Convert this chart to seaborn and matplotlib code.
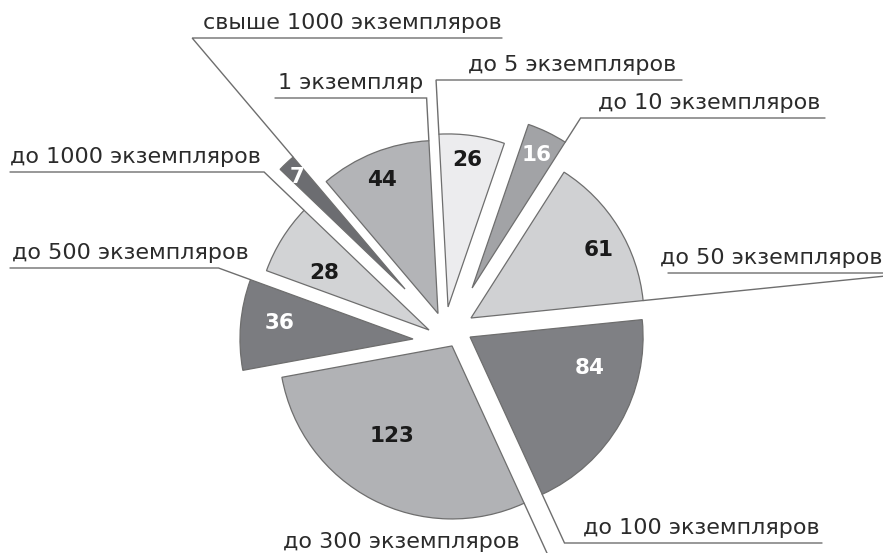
import numpy as np
import seaborn as sns
from matplotlib import pyplot as plt

sns.set_style("white")
plt.rcParams['font.family'] = ['DejaVu Sans']

# pie order, clockwise from the upper left
categories = ['1 экземпляр', 'до 5 экземпляров', 'до 10 экземпляров',
              'до 50 экземпляров', 'до 100 экземпляров', 'до 300 экземпляров',
              'до 500 экземпляров', 'до 1000 экземпляров', 'свыше 1000 экземпляров']
values = [44, 26, 16, 61, 84, 123, 36, 28, 7]

colors = ['#b3b4b7', '#ececee', '#a2a3a6', '#d0d1d3', '#7f8084',
          '#b1b2b5', '#7b7c80', '#d2d3d5', '#6c6d71']
value_colors = ['#1a1a1a', '#1a1a1a', 'white', '#1a1a1a', 'white',
                '#1a1a1a', 'white', '#1a1a1a', 'white']

# wedges are pulled out by hand, not always along their bisector:
# distance (fraction of radius) and direction (degrees)
offset_dist = [0.141, 0.141, 0.26, 0.111, 0.091, 0.095, 0.254, 0.156, 0.378]
offset_ang = [137.5, 109, 69, 38.7, -26.6, -104, 191.8, 180, 141.2]
# where the number sits inside its wedge: fraction of the angle, fraction of radius
value_t = [0.53, 0.53, 0.48, 0.43, 0.715, 0.44, 0.43, 0.65, 0.58]
value_rho = [0.84, 0.857, 0.855, 0.833, 0.716, 0.625, 0.775, 0.69, 0.90]

W, H = 883, 553
R = 173
CENTER = np.array([456.0, H - 330.0])
EDGE = '#6e6e6e'


def unit(deg):
    a = np.deg2rad(deg)
    return np.array([np.cos(a), np.sin(a)])


fig = plt.figure(figsize=(W / 100, H / 100), dpi=100)
ax = fig.add_axes([0, 0, 1, 1])

wedges, _ = ax.pie(values, colors=colors, startangle=130.3, counterclock=False,
                   radius=R, center=tuple(CENTER),
                   wedgeprops=dict(edgecolor=EDGE, linewidth=0.9), frame=True)
for w, d, a in zip(wedges, offset_dist, offset_ang):
    w.set_center(tuple(CENTER + d * R * unit(a)))

ax.set_xlim(0, W)
ax.set_ylim(0, H)
ax.set_aspect('equal')
ax.axis('off')

# numbers inside wedges
for w, v, c, t, rho in zip(wedges, values, value_colors, value_t, value_rho):
    a = w.theta1 + t * (w.theta2 - w.theta1)
    x, y = np.array(w.center) + rho * R * unit(a)
    ax.text(x, y, str(v), ha='center', va='center', color=c,
            fontsize=15.5, fontweight='bold', zorder=5)

# outer labels: (wedge index, side of wedge, line y from top, far end x, text x)
leaders = [
    (0, 'lo', 98, 275, 278),
    (1, 'hi', 80, 682, 468),
    (2, 'lo', 118, 825, 598),
    (3, 'lo', 273, 668, 660),
    (4, 'lo', 543, 822, 583),
    (5, 'hi', 557, 560, 283),
    (6, 'lo', 268, 10, 12),
    (7, 'lo', 172, 10, 10),
    (8, 'lo', 38, 502, 203),
]

for idx, side, ly, far_x, tx in leaders:
    w = wedges[idx]
    ang = w.theta1 if side == 'lo' else w.theta2
    u = unit(ang)
    corner = np.array(w.center) + R * u
    y = H - ly
    k = (y - corner[1]) / u[1]
    elbow = corner + k * u
    ax.plot([corner[0], elbow[0], far_x], [corner[1], y, y],
            color=EDGE, lw=1.0, zorder=0, solid_joinstyle='miter')
    ax.text(tx, y + 9, categories[idx], ha='left', va='baseline',
            color='#2b2b2b', fontsize=16)

plt.savefig('out.png', dpi=100)
